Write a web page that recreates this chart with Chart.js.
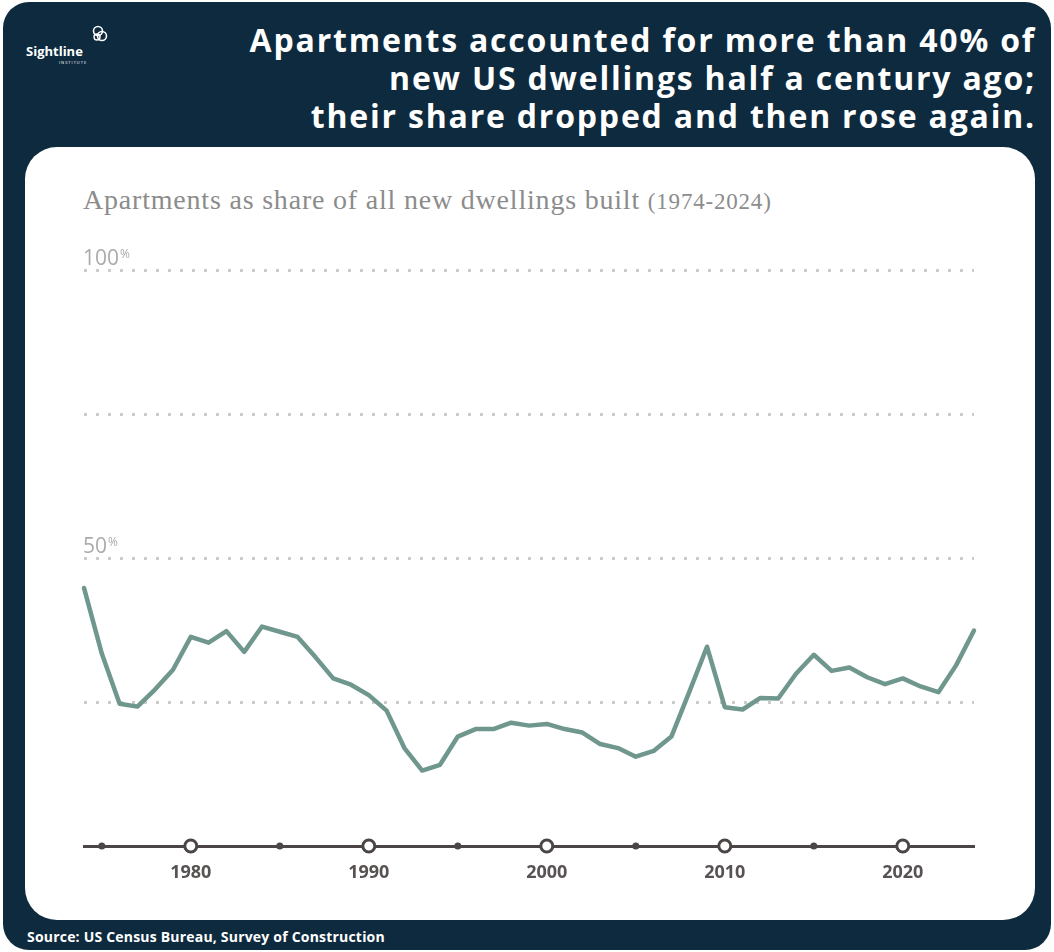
<!DOCTYPE html>
<html>
<head>
<meta charset="utf-8">
<script src="https://cdn.jsdelivr.net/npm/chart.js@4.4.1/dist/chart.umd.min.js"></script>
<style>
  html, body { margin: 0; padding: 0; background: #ffffff; }
  #page { position: relative; width: 1054px; height: 952px; overflow: hidden; }
  #panel {
    position: absolute; left: 3px; top: 2px; width: 1048px; height: 948px;
    background: #0e2a3e; border-radius: 26px;
  }
  #card {
    position: absolute; left: 25px; top: 147px; width: 1010px; height: 773px;
    background: #ffffff; border-radius: 32px;
  }
  #title {
    position: absolute; right: 18px; top: 21px; text-align: right;
    font-family: "Open Sans", sans-serif; font-weight: 700; font-size: 32px;
    line-height: 38px; color: #ffffff; letter-spacing: 1.8px;
  }
  #logo { position: absolute; left: 26px; top: 24px; width: 90px; height: 46px; color: #fff; }
  #logo .name { position: absolute; left: 0; top: 18px; font-family: "Open Sans", sans-serif; font-weight: 700; font-size: 13px; }
  #logo .inst { position: absolute; left: 33px; top: 36px; font-family: "Open Sans", sans-serif; font-size: 4px; letter-spacing: 1px; }
  #logo svg { position: absolute; left: 64px; top: 0; }
  #subtitle {
    position: absolute; left: 83px; top: 184px;
    font-family: "Liberation Serif", serif; font-size: 28px; color: #8c8c8c; letter-spacing: 0.8px;
  }
  #subtitle small { font-size: 23px; }
  #source {
    position: absolute; left: 27px; top: 927px;
    font-family: "Open Sans", sans-serif; font-weight: 700; font-size: 14px; color: #ffffff; letter-spacing: 0.2px;
  }
  #chart { position: absolute; left: 0; top: 0; }
</style>
</head>
<body>
<div id="page">
  <div id="panel"></div>
  <div id="logo">
    <svg width="24" height="20" viewBox="0 0 24 20">
      <circle cx="8" cy="7" r="4.5" fill="none" stroke="#fff" stroke-width="1.6"/>
      <circle cx="12" cy="12" r="4.5" fill="none" stroke="#fff" stroke-width="1.6"/>
      <circle cx="7" cy="13" r="3" fill="none" stroke="#fff" stroke-width="1.4"/>
    </svg>
    <div class="name">Sightline</div>
    <div class="inst">INSTITUTE</div>
  </div>
  <div id="title">Apartments accounted for more than 40% of<br>new US dwellings half a century ago;<br>their share dropped and then rose again.</div>
  <div id="card"></div>
  <div id="subtitle">Apartments as share of all new dwellings built <small>(1974-2024)</small></div>
  <div id="source">Source: US Census Bureau, Survey of Construction</div>
  <canvas id="chart" width="1054" height="952"></canvas>
</div>
<script>
// apartment share of new dwellings, percent
const years = [
  1974, 1975, 1976, 1977, 1978, 1979, 1980, 1981, 1982, 1983, 1984, 1985, 1986,
  1987, 1988, 1989, 1990, 1991, 1992, 1993, 1994, 1995, 1996, 1997, 1998, 1999,
  2000, 2001, 2002, 2003, 2004, 2005, 2006, 2007, 2008, 2009, 2010, 2011, 2012,
  2013, 2014, 2015, 2016, 2017, 2018, 2019, 2020, 2021, 2022, 2023, 2024
];
const apartmentShare = [
  44.8, 33.4, 24.7, 24.2, 27.2, 30.6, 36.3, 35.3, 37.3, 33.7, 38.1, 37.2, 36.3,
  32.8, 29.1, 28.0, 26.2, 23.5, 17.0, 13.1, 14.1, 19.0, 20.3, 20.3, 21.4, 20.9,
  21.2, 20.3, 19.7, 17.7, 17.0, 15.5, 16.5, 19.0, 26.7, 34.6, 24.1, 23.7, 25.7,
  25.6, 29.9, 33.2, 30.4, 31.0, 29.3, 28.1, 29.1, 27.7, 26.7, 31.4, 37.4
];
const decadeTicks = [1980, 1990, 2000, 2010, 2020];
const axisMarkerYears = [1975, 1980, 1985, 1990, 1995, 2000, 2005, 2010, 2015, 2020];
const gridValues = [25, 50, 75, 100];
const labelledValues = [50, 100];

const axisColor = "#4b4545";

// percent labels sitting on top of their dotted gridline
const percentLabels = {
  id: "percentLabels",
  afterDraw(chart) {
    const { ctx, scales } = chart;
    const left = chart.chartArea.left - 1;
    ctx.save();
    ctx.fillStyle = "#aaaaaa";
    ctx.textBaseline = "alphabetic";
    labelledValues.forEach((v) => {
      const y = scales.y.getPixelForValue(v) - 5;
      ctx.font = "500 21px 'Open Sans'";
      const num = String(v);
      ctx.fillText(num, left, y);
      const w = ctx.measureText(num).width;
      ctx.font = "500 12px 'Open Sans'";
      ctx.fillText("%", left + w + 1, y - 7);
    });
    ctx.restore();
  }
};

new Chart(document.getElementById("chart"), {
  type: "line",
  data: {
    datasets: [
      {
        data: years.map((yr, i) => ({ x: yr, y: apartmentShare[i] })),
        borderColor: "#6f978d",
        borderWidth: 4.5,
        borderJoinStyle: "round",
        borderCapStyle: "round",
        pointRadius: 0,
        tension: 0,
        clip: false
      },
      {
        data: axisMarkerYears.map((yr) => ({ x: yr, y: 0 })),
        showLine: false,
        clip: false,
        pointStyle: "circle",
        pointRadius: (c) => (decadeTicks.includes(c.raw.x) ? 6 : 3.5),
        pointBorderWidth: (c) => (decadeTicks.includes(c.raw.x) ? 3 : 0),
        pointBackgroundColor: (c) => (decadeTicks.includes(c.raw.x) ? "#ffffff" : axisColor),
        pointBorderColor: axisColor
      }
    ]
  },
  options: {
    responsive: false,
    animation: false,
    events: [],
    layout: { padding: { left: 84, right: 80, top: 270, bottom: 66 } },
    plugins: { legend: { display: false }, tooltip: { enabled: false } },
    scales: {
      x: {
        type: "linear",
        min: 1974,
        max: 2024,
        afterFit: (s) => { s.height = 40; },
        afterBuildTicks: (s) => { s.ticks = decadeTicks.map((v) => ({ value: v })); },
        grid: { display: false, drawTicks: false },
        border: { display: true, color: axisColor, width: 3 },
        ticks: {
          color: "#585252",
          padding: 16,
          font: { family: "'Open Sans'", weight: "700", size: 18 },
          callback: (v) => String(v)
        }
      },
      y: {
        min: 0,
        max: 100,
        afterFit: (s) => { s.width = 0; },
        afterBuildTicks: (s) => { s.ticks = [0, ...gridValues].map((v) => ({ value: v })); },
        ticks: { display: false },
        grid: {
          drawTicks: false,
          lineWidth: 3,
          color: (c) => (c.tick && c.tick.value === 0 ? "rgba(0,0,0,0)" : "#cccccc")
        },
        border: { display: false, dash: [3, 9] }
      }
    }
  },
  plugins: [percentLabels]
});
</script>
</body>
</html>
